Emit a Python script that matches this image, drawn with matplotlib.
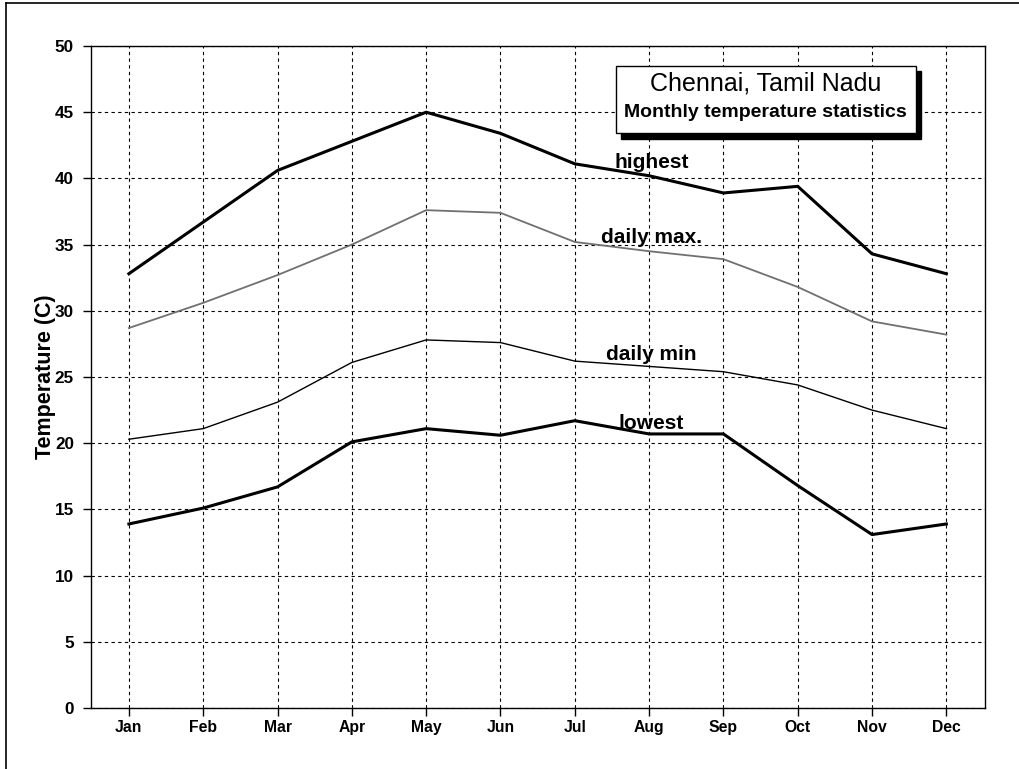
import matplotlib.pyplot as plt
from matplotlib.patches import Rectangle
from matplotlib.lines import Line2D

plt.rcParams['font.family'] = ['Liberation Sans', 'DejaVu Sans']

# --- DATA ---
months = ['Jan', 'Feb', 'Mar', 'Apr', 'May', 'Jun',
          'Jul', 'Aug', 'Sep', 'Oct', 'Nov', 'Dec']
highest = [32.8, 36.7, 40.6, 42.8, 45.0, 43.4, 41.1, 40.2, 38.9, 39.4, 34.3, 32.8]
daily_max = [28.7, 30.6, 32.7, 35.0, 37.6, 37.4, 35.2, 34.5, 33.9, 31.8, 29.2, 28.2]
daily_min = [20.3, 21.1, 23.1, 26.1, 27.8, 27.6, 26.2, 25.8, 25.4, 24.4, 22.5, 21.1]
lowest = [13.9, 15.1, 16.7, 20.1, 21.1, 20.6, 21.7, 20.7, 20.7, 16.8, 13.1, 13.9]

label_text = ['highest', 'daily max.', 'daily min', 'lowest']
label_y = [41.2, 35.5, 26.7, 21.5]

fig = plt.figure(figsize=(10.2, 7.69), dpi=100)
ax = fig.add_axes([0.0892, 0.0793, 0.8765, 0.8609])

x = list(range(len(months)))
ax.plot(x, highest, color='black', linewidth=2.2, zorder=3)
ax.plot(x, daily_max, color='#707070', linewidth=1.3, zorder=3)
ax.plot(x, daily_min, color='black', linewidth=1.0, zorder=3)
ax.plot(x, lowest, color='black', linewidth=2.2, zorder=3)

for txt, yy in zip(label_text, label_y):
    ax.text(7.03, yy, txt, ha='center', va='center', fontsize=15,
            fontweight='bold', zorder=4)

ax.set_xlim(-0.51, 11.52)
ax.set_ylim(0, 50)
ax.set_xticks(x)
ax.set_xticklabels(months, fontsize=11.3, fontweight='bold')
ax.set_yticks(range(0, 51, 5))
ax.set_yticklabels([str(v) for v in range(0, 51, 5)], fontsize=12.3, fontweight='bold')
ax.tick_params(direction='out', length=5.8, width=1, color='black')
ax.tick_params(axis='x', pad=3)
ax.tick_params(axis='y', pad=6.5)
ax.set_ylabel('Temperature (C)', fontsize=15.5, fontweight='bold', labelpad=-1)

ax.grid(True, color='black', linestyle=(0, (3, 3)), linewidth=0.8)
ax.set_axisbelow(True)
for s in ax.spines.values():
    s.set_linewidth(1.0)

# title box with drop shadow
ax.add_patch(Rectangle((6.62, 43.0), 4.04, 5.1, transform=ax.transData,
                       facecolor='black', edgecolor='black', zorder=5))
ax.add_patch(Rectangle((6.55, 43.4), 4.04, 5.1, transform=ax.transData,
                       facecolor='white', edgecolor='black', linewidth=1, zorder=6))
ax.text(8.57, 47.2, 'Chennai, Tamil Nadu', ha='center', va='center',
        fontsize=18, zorder=7)
ax.text(8.57, 45.0, 'Monthly temperature statistics', ha='center', va='center',
        fontsize=14, fontweight='bold', zorder=7)

# outer frame (top and left edges visible)
fig.add_artist(Line2D([0.0059, 1.0], [0.9961, 0.9961], color='black', linewidth=1.2))
fig.add_artist(Line2D([0.0059, 0.0059], [0.0, 0.9961], color='black', linewidth=1.2))

fig.savefig('out.png', dpi=100)
